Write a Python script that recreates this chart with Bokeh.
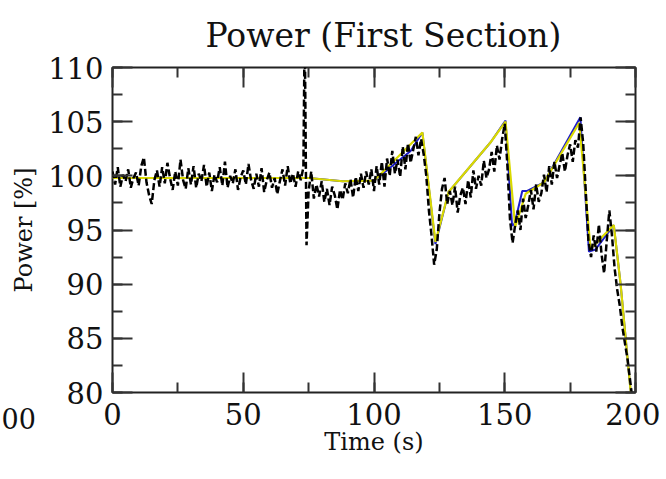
from bokeh.plotting import figure
from bokeh.models import LinearAxis, SingleIntervalTicker, Range1d, Label, CustomJSTickFormatter
from bokeh.embed import file_html
from bokeh.resources import INLINE

# ---------------- data ----------------
x_ticks = [0, 50, 100, 150, 200]
y_ticks = [80, 85, 90, 95, 100, 105, 110]

# reference (yellow) trajectory
time_ref = [0, 20, 75, 88, 100, 118.5, 123.5, 128.5, 144.6, 150.3, 154, 158, 165, 178.5, 182.8, 184.1, 191.7, 194.3, 198.1, 199]
power_ref = [99.8, 99.8, 99.8, 99.5, 99.55, 104.0, 93.9, 98.5, 103.1, 105.0, 95.3, 98.35, 99.4, 104.9, 93.3, 93.6, 95.45, 90.0, 80.2, 79.0]

# estimated (blue) trajectory
time_est = [0, 20, 75, 88, 100, 110, 114, 118.5, 123.5, 128.5, 144.6, 150.3, 152.8, 153.8, 156.7, 158.6, 165, 178.9, 182.2, 184.7, 191.7, 194.3, 198.1, 199]
power_est = [99.8, 99.8, 99.8, 99.5, 99.55, 101.5, 102.3, 104.0, 93.7, 98.5, 103.1, 105.1, 95.4, 95.6, 98.6, 98.6, 99.4, 105.4, 93.0, 93.2, 95.45, 90.0, 80.2, 79.0]

# measured (black dashed) signal
time_meas = [
    0, 1, 2, 3, 4, 5, 6, 7, 8, 9,
    10, 11, 12, 13, 14, 15, 16, 17, 18, 19,
    20, 21, 22, 23, 24, 25, 26, 27, 28, 29,
    30, 31, 32, 33, 34, 35, 36, 37, 38, 39,
    40, 41, 42, 43, 44, 45, 46, 47, 48, 49,
    50, 51, 52, 53, 54, 55, 56, 57, 58, 59,
    60, 61, 62, 63, 64, 65, 66, 67, 68, 69,
    70, 71, 72, 73, 73.5, 74.2, 75, 76, 77, 78, 79,
    80, 81, 82, 83, 84, 85, 86, 87, 88, 89,
    90, 91, 92, 93, 94, 95, 96, 97, 98, 99,
    100, 101, 102, 103, 104, 105, 106, 107, 108, 109,
    110, 111, 112, 113, 114, 115, 116, 117, 118, 119,
    120, 121, 122, 123, 124, 125, 126, 127, 128, 129,
    130, 131, 132, 133, 134, 135, 136, 137, 138, 139,
    140, 141, 142, 143, 144, 145, 146, 147, 148, 149,
    150, 151, 152, 153, 154, 155, 156, 157, 158, 159,
    160, 161, 162, 163, 164, 165, 166, 167, 168, 169,
    170, 171, 172, 173, 174, 175, 176, 177, 178, 179,
    180, 181, 182, 183, 184, 185, 186, 187, 188, 189,
    190, 191, 192, 193, 194, 195, 196, 197, 198, 199,
]
power_meas = [
    100.4, 99.2, 100.8, 99.0, 100.1, 99.5, 100.6, 98.9, 99.8, 100.3,
    99.1, 100.9, 101.7, 99.4, 98.2, 97.4, 99.6, 100.5, 99.0, 100.8,
    99.3, 101.2, 99.8, 98.7, 100.4, 99.1, 101.5, 99.6, 98.8, 100.7,
    99.2, 100.9, 98.9, 100.2, 99.5, 101.0, 99.0, 100.3, 98.6, 100.1,
    99.4, 100.8, 99.1, 101.3, 98.9, 100.0, 99.3, 100.6, 98.7, 99.9,
    100.5, 99.2, 101.1, 99.6, 98.8, 100.2, 99.0, 100.7, 98.5, 99.6,
    100.3, 98.9, 99.8, 98.3, 99.5, 100.6, 99.1, 100.9, 99.3, 100.2,
    99.0, 100.4, 99.6, 100.8, 114.0, 93.6, 98.6, 100.4, 97.9, 99.2, 98.1,
    99.5, 97.6, 98.8, 97.3, 99.0, 98.2, 96.9, 98.7, 97.8, 99.3,
    98.4, 99.7, 98.0, 99.9, 98.6, 100.2, 98.9, 100.4, 99.2, 100.6,
    98.6, 100.9, 99.2, 101.3, 99.0, 101.6, 100.0, 102.3, 100.2, 101.5,
    99.9, 102.7, 100.6, 103.0, 101.2, 102.4, 103.6, 101.9, 103.4, 102.0,
    100.0, 96.8, 94.5, 91.8, 93.2, 96.5, 98.8, 99.8, 97.4, 98.6,
    97.3, 99.0, 96.6, 98.2, 98.9, 97.4, 99.6, 98.0, 100.5, 98.8,
    100.0, 99.1, 101.4, 99.8, 100.6, 102.2, 100.4, 102.8, 101.5, 103.4,
    104.8, 101.0, 96.0, 93.8, 95.5, 96.8, 95.0, 97.9, 96.1, 97.3,
    98.7, 96.9, 99.2, 97.6, 98.4, 100.1, 98.5, 100.9, 99.2, 101.3,
    99.8, 101.0, 102.1, 100.4, 101.9, 102.9, 101.3, 103.3, 102.6, 105.4,
    103.0, 98.5, 94.0, 92.5, 94.5, 93.0, 95.5, 92.8, 91.0, 94.0,
    96.8, 94.5, 91.5, 89.5, 88.0, 86.0, 84.5, 83.0, 81.0, 79.0,
]

# ---------------- figure ----------------
FONT = "DejaVu Serif"
W, H = 660, 479
FRAME_LEFT, FRAME_RIGHT, FRAME_TOP, FRAME_BOTTOM = 112, 635, 67, 395

p = figure(width=W, height=H, output_backend="svg", toolbar_location=None,
           x_range=Range1d(0, 200), y_range=Range1d(80, 110),
           x_axis_type=None, y_axis_type=None)
p.min_border_left = FRAME_LEFT
p.min_border_right = W - FRAME_RIGHT
p.min_border_top = FRAME_TOP
p.min_border_bottom = H - FRAME_BOTTOM
p.background_fill_color = "white"
p.border_fill_color = "white"
p.outline_line_color = "#222222"
p.outline_line_width = 2
p.grid.visible = False

p.title.text = "Power (First Section)"
p.title.align = "left"
p.title.offset = 93
p.title.standoff = 25
p.title.text_font = FONT
p.title.text_font_size = "33px"
p.title.text_font_style = "normal"
p.title.text_color = "#111111"


def make_axis(interval, labels):
    ax = LinearAxis(ticker=SingleIntervalTicker(interval=interval, num_minor_ticks=2))
    ax.axis_line_color = None
    ax.major_tick_in = 20
    ax.major_tick_out = 0
    ax.minor_tick_in = 10
    ax.minor_tick_out = 0
    ax.major_tick_line_color = "#333333"
    ax.minor_tick_line_color = "#333333"
    ax.major_tick_line_width = 2
    ax.minor_tick_line_width = 2
    if labels:
        ax.major_label_text_font = FONT
        ax.major_label_text_font_size = "29px"
        ax.major_label_text_color = "#111111"
        ax.major_label_standoff = 9
        ax.axis_label_text_font = FONT
        ax.axis_label_text_font_size = "24px"
        ax.axis_label_text_font_style = "normal"
        ax.axis_label_text_color = "#111111"
    else:
        ax.formatter = CustomJSTickFormatter(code="return ''")
        ax.major_label_standoff = 0
    return ax


xb = make_axis(50, True)
xb.axis_label = "Time (s)"
xb.major_label_standoff = 10
xb.axis_label_standoff = 0
yl = make_axis(5, True)
yl.axis_label = "Power [%]"
yl.axis_label_standoff = 7
xt = make_axis(50, False)
yr = make_axis(5, False)
p.add_layout(xb, "below")
p.add_layout(yl, "left")
p.add_layout(xt, "above")
p.add_layout(yr, "right")

p.line(time_est, power_est, line_color="#1c1ccc", line_width=2)
p.line(time_ref, power_ref, line_color="#d9d900", line_width=2.2)
p.line(time_meas, power_meas, line_color="#000000", line_width=2.5, line_dash="7 3")

# fragment of a neighbouring panel's tick label, seen at the left edge
# (placed in a side panel so that it is not clipped to the data frame)
p.add_layout(Label(x=-42.4, y=77.6, text="00", text_align="left", text_baseline="middle",
                   text_font=FONT, text_font_size="27px", text_color="#111111"), "below")

open("out.html", "w").write(file_html(p, INLINE))
